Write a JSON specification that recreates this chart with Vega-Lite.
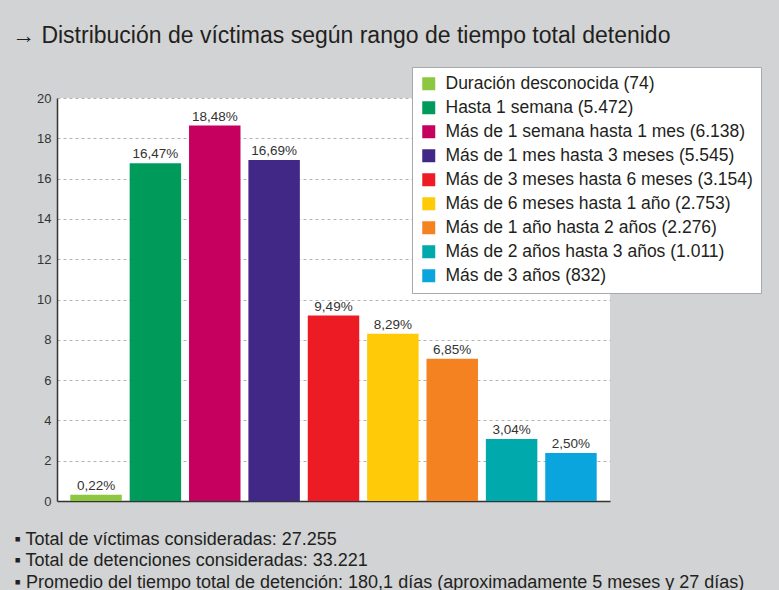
{
  "$schema": "https://vega.github.io/schema/vega-lite/v6.json",
  "width": 553,
  "height": 403,
  "autosize": {"type": "none"},
  "padding": {"left": 57, "top": 98, "right": 169, "bottom": 89},
  "background": "#d1d3d4",
  "title": {
    "text": "→ Distribución de víctimas según rango de tiempo total detenido",
    "anchor": "start",
    "dx": -2,
    "offset": 19,
    "font": "Liberation Sans",
    "fontSize": 23,
    "fontWeight": "normal",
    "color": "#231f20"
  },
  "data": {
    "values": [
      {"cat": "Duración desconocida (74)", "value": 0.31, "label": "0,22%"},
      {"cat": "Hasta 1 semana (5.472)", "value": 16.76, "label": "16,47%"},
      {"cat": "Más de 1 semana hasta 1 mes (6.138)", "value": 18.63, "label": "18,48%"},
      {"cat": "Más de 1 mes hasta 3 meses (5.545)", "value": 16.92, "label": "16,69%"},
      {"cat": "Más de 3 meses hasta 6 meses (3.154)", "value": 9.2, "label": "9,49%"},
      {"cat": "Más de 6 meses hasta 1 año (2.753)", "value": 8.3, "label": "8,29%"},
      {"cat": "Más de 1 año hasta 2 años (2.276)", "value": 7.06, "label": "6,85%"},
      {"cat": "Más de 2 años hasta 3 años (1.011)", "value": 3.08, "label": "3,04%"},
      {"cat": "Más de 3 años (832)", "value": 2.38, "label": "2,50%"}
    ]
  },
  "encoding": {
    "x": {
      "field": "cat",
      "type": "nominal",
      "sort": null,
      "scale": {"paddingInner": 0.133, "paddingOuter": 0.224},
      "axis": {
        "labels": false,
        "ticks": false,
        "domainColor": "#333333",
        "domainWidth": 1.5,
        "title": [
          "▪ Total de víctimas consideradas: 27.255",
          "▪ Total de detenciones consideradas: 33.221",
          "▪ Promedio del tiempo total de detención: 180,1 días (aproximadamente 5 meses y 27 días)"
        ],
        "titleFont": "Liberation Sans",
        "titleFontSize": 18,
        "titleFontWeight": "normal",
        "titleColor": "#231f20",
        "titleAnchor": "start",
        "titleAlign": "left",
        "titleBaseline": "alphabetic",
        "titleX": -43,
        "titleY": 43,
        "titleLineHeight": 21.5
      }
    },
    "y": {
      "field": "value",
      "type": "quantitative",
      "scale": {"domain": [0, 20]},
      "axis": {
        "values": [0, 2, 4, 6, 8, 10, 12, 14, 16, 18, 20],
        "title": null,
        "ticks": false,
        "labelPadding": 6,
        "labelFont": "Liberation Sans",
        "labelFontSize": 13,
        "labelColor": "#333333",
        "domainColor": "#333333",
        "domainWidth": 1.5,
        "gridColor": "#b3b3b3",
        "gridDash": [3, 3],
        "gridWidth": 1
      }
    }
  },
  "layer": [
    {
      "mark": {"type": "bar"},
      "encoding": {
        "color": {
          "field": "cat",
          "type": "nominal",
          "scale": {
            "domain": [
              "Duración desconocida (74)",
              "Hasta 1 semana (5.472)",
              "Más de 1 semana hasta 1 mes (6.138)",
              "Más de 1 mes hasta 3 meses (5.545)",
              "Más de 3 meses hasta 6 meses (3.154)",
              "Más de 6 meses hasta 1 año (2.753)",
              "Más de 1 año hasta 2 años (2.276)",
              "Más de 2 años hasta 3 años (1.011)",
              "Más de 3 años (832)"
            ],
            "range": ["#8dc63f", "#009b5a", "#c5005e", "#412886", "#ed1c24", "#ffcb08", "#f58220", "#00a9ac", "#0ba5de"]
          },
          "legend": {
            "orient": "none",
            "legendX": 355,
            "legendY": -31,
            "title": null,
            "fillColor": "white",
            "strokeColor": "#a7a9ac",
            "padding": 8,
            "symbolType": "square",
            "symbolSize": 169,
            "symbolStrokeWidth": 0,
            "symbolOpacity": 1,
            "labelFont": "Liberation Sans",
            "labelFontSize": 17.5,
            "labelColor": "#231f20",
            "labelOffset": 8,
            "labelLimit": 400,
            "rowPadding": 5
          }
        }
      }
    },
    {
      "mark": {"type": "text", "baseline": "alphabetic", "dy": -5, "font": "Liberation Sans", "fontSize": 13.5, "color": "#333333"},
      "encoding": {
        "text": {"field": "label"}
      }
    }
  ],
  "config": {
    "view": {"fill": "white", "stroke": null}
  }
}
